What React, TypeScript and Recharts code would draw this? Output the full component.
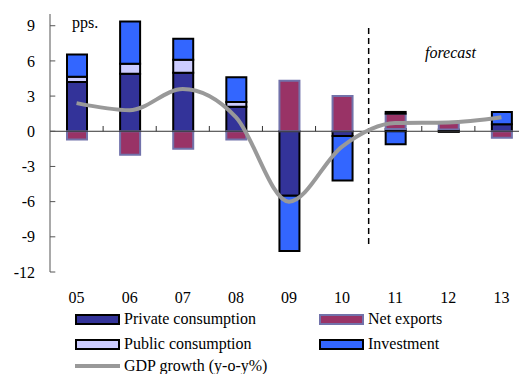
import React from "react";
import {
  ComposedChart,
  Bar,
  Line,
  XAxis,
  YAxis,
  ReferenceLine,
} from "recharts";

const years = ["05", "06", "07", "08", "09", "10", "11", "12", "13"];
const privateCons = [4.2, 4.9, 5.0, 2.1, -5.5, -0.4, 0.2, 0.15, 0.6];
const netExports = [-0.7, -2.0, -1.5, -0.7, 4.3, 3.0, 1.3, 0.55, -0.55];
const publicCons = [0.45, 0.85, 1.1, 0.4, 0, 0, 0.15, 0, 0];
const investment = [1.9, 3.6, 1.8, 2.1, -4.7, -3.8, -1.1, -0.05, 1.05];
const gdpGrowth = [2.4, 1.8, 3.6, 1.2, -6.0, -1.3, 0.7, 0.75, 1.2];

const yTicks = [-12, -9, -6, -3, 0, 3, 6, 9];
const boundaries = [1, 2, 3, 4, 5, 7, 8];
const forecastStart = 6;

const COLORS = {
  private: "#333399",
  net: "#993366",
  netBorder: "#7272AA",
  public: "#CCCCFF",
  invest: "#3366FF",
  gdp: "#999999",
};

const FONT = '"Liberation Serif", "Times New Roman", serif';

// pos = centre of each category on the hidden numeric axis (0..9)
const data = years.map((year, i) => ({
  year,
  pos: i + 0.5,
  privateCons: privateCons[i],
  netExports: netExports[i],
  publicCons: publicCons[i],
  investment: investment[i],
  gdp: gdpGrowth[i],
}));

const legendItems = [
  { label: "Private consumption", fill: COLORS.private, border: "#000", left: 75, top: 311 },
  { label: "Net exports", fill: COLORS.net, border: COLORS.netBorder, left: 319, top: 311 },
  { label: "Public consumption", fill: COLORS.public, border: "#000", left: 75, top: 336 },
  { label: "Investment", fill: COLORS.invest, border: "#000", left: 319, top: 336 },
];

const rowStyle: React.CSSProperties = {
  position: "absolute",
  height: 16,
  display: "flex",
  alignItems: "center",
  fontFamily: FONT,
  fontSize: 16,
  lineHeight: "16px",
  whiteSpace: "nowrap",
};

function LegendBlock() {
  return (
    <>
      {legendItems.map((item) => (
        <div key={item.label} style={{ ...rowStyle, left: item.left, top: item.top }}>
          <span
            style={{
              display: "inline-block",
              width: 41,
              height: 7,
              background: item.fill,
              border: `2px solid ${item.border}`,
              marginRight: 4,
            }}
          />
          {item.label}
        </div>
      ))}
      <div style={{ ...rowStyle, left: 75, top: 358 }}>
        <span
          style={{
            display: "inline-block",
            width: 45,
            height: 4,
            background: COLORS.gdp,
            marginRight: 4,
          }}
        />
        GDP growth (y-o-y%)
      </div>
    </>
  );
}

export default function App() {
  return (
    <div
      style={{
        position: "absolute",
        left: 0,
        top: 0,
        width: 519,
        height: 374,
        overflow: "hidden",
        background: "#fff",
      }}
    >
      <ComposedChart
        width={540}
        height={374}
        data={data}
        stackOffset="sign"
        margin={{ top: 14, right: 12, left: 0, bottom: 72 }}
        barCategoryGap={0}
      >
        <XAxis
          dataKey="year"
          axisLine={false}
          tickLine={false}
          tickSize={0}
          tickMargin={20}
          height={30}
          interval={0}
          tick={{ fill: "#000", fontSize: 16, fontFamily: FONT }}
        />
        <XAxis
          xAxisId="n"
          dataKey="pos"
          type="number"
          domain={[0, 9]}
          hide
          allowDataOverflow
        />
        <YAxis
          domain={[-12, 10]}
          ticks={yTicks}
          allowDataOverflow
          width={50}
          tickSize={0}
          tickMargin={15}
          tickLine={false}
          axisLine={{ stroke: "#555", strokeWidth: 1 }}
          tick={{ fill: "#000", fontSize: 16, fontFamily: FONT }}
        />
        <Bar
          dataKey="privateCons"
          stackId="a"
          fill={COLORS.private}
          stroke="#000"
          strokeWidth={2}
          barSize={20}
          isAnimationActive={false}
        />
        <Bar
          dataKey="netExports"
          stackId="a"
          fill={COLORS.net}
          stroke={COLORS.netBorder}
          strokeWidth={2}
          barSize={20}
          isAnimationActive={false}
        />
        <Bar
          dataKey="publicCons"
          stackId="a"
          fill={COLORS.public}
          stroke="#000"
          strokeWidth={2}
          barSize={20}
          isAnimationActive={false}
        />
        <Bar
          dataKey="investment"
          stackId="a"
          fill={COLORS.invest}
          stroke="#000"
          strokeWidth={2}
          barSize={20}
          isAnimationActive={false}
        />
        <ReferenceLine y={0} stroke="#333" strokeWidth={1} />
        {boundaries.map((b) => (
          <ReferenceLine
            key={`xt-${b}`}
            xAxisId="n"
            segment={[
              { x: b, y: 0 },
              { x: b, y: 0.45 },
            ]}
            stroke="#333"
            strokeWidth={1}
          />
        ))}
        {yTicks.map((t) => (
          <ReferenceLine
            key={`yt-${t}`}
            xAxisId="n"
            segment={[
              { x: 0, y: t },
              { x: 0.1, y: t },
            ]}
            stroke="#555"
            strokeWidth={1}
          />
        ))}
        <ReferenceLine
          xAxisId="n"
          segment={[
            { x: forecastStart, y: 8.8 },
            { x: forecastStart, y: -9.7 },
          ]}
          stroke="#000"
          strokeWidth={1.5}
          strokeDasharray="6 4"
        />
        <Line
          dataKey="gdp"
          type="monotone"
          stroke={COLORS.gdp}
          strokeWidth={4}
          dot={false}
          isAnimationActive={false}
        />
      </ComposedChart>
      <div
        style={{
          position: "absolute",
          left: 72,
          top: 15,
          fontFamily: FONT,
          fontSize: 16,
          lineHeight: "16px",
        }}
      >
        pps.
      </div>
      <div
        style={{
          position: "absolute",
          left: 425,
          top: 45,
          fontFamily: FONT,
          fontSize: 16,
          fontStyle: "italic",
          lineHeight: "16px",
        }}
      >
        forecast
      </div>
      <LegendBlock />
    </div>
  );
}
